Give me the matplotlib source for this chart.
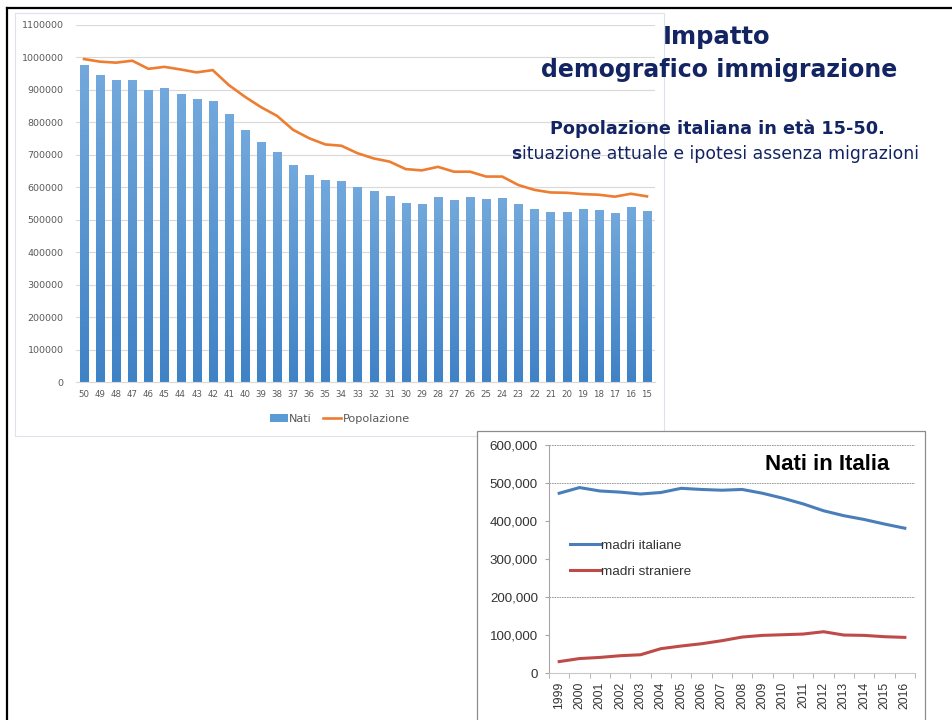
import numpy as np
import matplotlib
matplotlib.use("Agg")
import matplotlib.pyplot as plt
from matplotlib.patches import Rectangle
from matplotlib.lines import Line2D

# --- dati grafico in alto (età 50 -> 15) ---
eta = [str(a) for a in range(50, 14, -1)]
nati = [977000, 945000, 930000, 931000, 900000, 905000, 887000, 873000, 866000,
        826000, 778000, 740000, 708000, 669000, 638000, 622000, 620000, 601000,
        587000, 574000, 553000, 549000, 569000, 560000, 569000, 563000, 567000,
        548000, 532000, 525000, 525000, 533000, 530000, 522000, 538000, 527000]
popolazione = [995000, 987000, 984000, 990000, 965000, 971000, 963000, 954000, 961000,
               915000, 879000, 847000, 820000, 777000, 751000, 732000, 728000, 705000,
               689000, 679000, 656000, 652000, 663000, 648000, 648000, 633000, 633000,
               607000, 592000, 584000, 583000, 579000, 577000, 571000, 580000, 572000]
y_ticks_top = list(range(0, 1100001, 100000))

# --- dati grafico in basso (anni) ---
anni = [str(a) for a in range(1999, 2017)]
madri_italiane = [473000, 488000, 479000, 476000, 471000, 475000, 486000, 483000, 481000,
                  483000, 473000, 460000, 445000, 427000, 414000, 404000, 392000, 381000]
madri_straniere = [30000, 38000, 41000, 45500, 48000, 64000, 71000, 77000, 85000,
                   94600, 99000, 100700, 102500, 108600, 99900, 99000, 95500, 93700]
y_ticks_bot = list(range(0, 600001, 100000))
griglia_bot = [200000, 500000, 600000]

W, H = 953, 720
NAVY = '#132462'


def px_box(l, t, r, b):
    return [l / W, 1 - b / H, (r - l) / W, (b - t) / H]


fig = plt.figure(figsize=(W / 100, H / 100), dpi=100)
fig.patch.set_facecolor('white')

# cornice della slide
fig.add_artist(Line2D([7 / W, 7 / W], [0, 1 - 8 / H], color='black', lw=1.6, zorder=10))
fig.add_artist(Line2D([7 / W, 1], [1 - 8 / H, 1 - 8 / H], color='black', lw=1.6, zorder=10))

# area grafico in alto
fig.add_artist(Rectangle((15 / W, 1 - 436 / H), 649 / W, 423 / H, transform=fig.transFigure,
                         facecolor='white', edgecolor='#DCE3EC', lw=0.8, zorder=-5))

ax = fig.add_axes(px_box(76, 25, 655, 382))
ax.patch.set_alpha(0)
x = np.arange(len(eta))
bars = ax.bar(x, nati, width=0.5, color='none', edgecolor='none', label='Nati', zorder=2)
grad = np.linspace(0, 1, 64).reshape(-1, 1)
cmap = matplotlib.colors.LinearSegmentedColormap.from_list('g', ['#3F82C6', '#72A8DC'])
for b in bars:
    im = ax.imshow(grad, cmap=cmap, origin='lower', aspect='auto', zorder=2,
                   extent=[b.get_x(), b.get_x() + b.get_width(), 0, b.get_height()])
    im.set_clip_path(b)
ax.plot(x, popolazione, color='#ED7D31', lw=1.9, label='Popolazione', zorder=3)
ax.set_xlim(-0.5, len(eta) - 0.5)
ax.set_ylim(0, 1100000)
ax.set_yticks(y_ticks_top)
ax.set_yticklabels([str(v) for v in y_ticks_top])
ax.set_xticks(x)
ax.set_xticklabels(eta)
ax.grid(axis='y', color='#D9D9D9', lw=0.8, zorder=0)
ax.set_axisbelow(True)
for s in ['top', 'right', 'left']:
    ax.spines[s].set_visible(False)
ax.spines['bottom'].set_color('#D9D9D9')
ax.tick_params(axis='y', length=0, pad=9, labelsize=6.8, labelcolor='#595959')
ax.tick_params(axis='x', length=0, pad=6, labelsize=6.2, labelcolor='#595959')

h_nati = Rectangle((0, 0), 1, 1, facecolor='#5B9BD5', edgecolor='none')
h_pop = Line2D([], [], color='#ED7D31', lw=1.9)
fig.legend([h_nati, h_pop], ['Nati', 'Popolazione'], loc='center',
           bbox_to_anchor=(340 / W, 1 - 419 / H), bbox_transform=fig.transFigure,
           ncol=2, frameon=False, fontsize=8.1, handlelength=1.6, handleheight=0.6,
           handletextpad=0.15, columnspacing=1.0, labelcolor='#595959')

# testi titolo
fig.text(717 / W, 1 - 37 / H, 'Impatto', ha='center', va='center', fontsize=17.5,
         weight='bold', color=NAVY)
fig.text(719 / W, 1 - 70 / H, 'demografico immigrazione', ha='center', va='center',
         fontsize=17, weight='bold', color=NAVY)
fig.text(717 / W, 1 - 129 / H, 'Popolazione italiana in età 15-50.', ha='center',
         va='center', fontsize=12.7, weight='bold', color=NAVY)

renderer = fig.canvas.get_renderer()
t1 = fig.text(0, 1 - 154 / H, 's', va='center', fontsize=12.4, weight='bold', color=NAVY)
t2 = fig.text(0, 1 - 154 / H, 'ituazione attuale e ipotesi assenza migrazioni', va='center',
              fontsize=12.4, color=NAVY)
w1 = t1.get_window_extent(renderer).width
w2 = t2.get_window_extent(renderer).width
x0 = 715 - (w1 + w2) / 2
t1.set_x(x0 / W)
t2.set_x((x0 + w1) / W)

# area grafico in basso
fig.add_artist(Rectangle((477 / W, -0.01), 448 / W, 1 - 431 / H + 0.01, transform=fig.transFigure,
                         facecolor='white', edgecolor='#8C8C8C', lw=0.9, zorder=-4))

ax2 = fig.add_axes(px_box(549, 445, 915, 673))
ax2.patch.set_alpha(0)
xa = np.arange(len(anni))
ax2.plot(xa, madri_italiane, color='#4A7EBB', lw=2.2, label='madri italiane', zorder=3)
ax2.plot(xa, madri_straniere, color='#BE4B48', lw=2.2, label='madri straniere', zorder=3)
for g in griglia_bot:
    ax2.axhline(g, color='#8A8A8A', lw=0.6, ls=(0, (2, 1)), zorder=1)
ax2.set_xlim(-0.5, len(anni) - 0.5)
ax2.set_ylim(0, 600000)
ax2.set_yticks(y_ticks_bot)
ax2.set_yticklabels(['0' if v == 0 else f'{v:,}' for v in y_ticks_bot])
ax2.set_xticks(xa)
ax2.set_xticklabels(anni, rotation=90, fontfamily='Liberation Sans')
ax2.set_xticks(np.arange(len(anni) + 1) - 0.5, minor=True)
for s in ['top', 'right']:
    ax2.spines[s].set_visible(False)
ax2.spines['left'].set_color('#A6A6A6')
ax2.spines['bottom'].set_color('#C8C8C8')
ax2.tick_params(axis='y', length=3, direction='out', color='#A6A6A6', pad=5,
                labelsize=9.6, labelcolor='#333333')
for lab in ax2.get_yticklabels():
    lab.set_fontfamily('Liberation Sans')
ax2.tick_params(axis='x', which='major', length=0, pad=6.5, labelsize=8.8, labelcolor='#333333')
ax2.tick_params(axis='x', which='minor', length=3.5, direction='out', color='#A6A6A6')
ax2.legend(loc='upper left', bbox_to_anchor=(0.025, 0.64), frameon=False,
           prop={'family': 'Liberation Sans', 'size': 9.7}, handlelength=2.2,
           handletextpad=0.1, labelspacing=1.0, labelcolor='#333333')
fig.text(827 / W, 1 - 465 / H, 'Nati in Italia', ha='center', va='center', fontsize=16,
         weight='bold', family='Liberation Sans', color='black')

fig.savefig('out.png', dpi=100, facecolor='white')
